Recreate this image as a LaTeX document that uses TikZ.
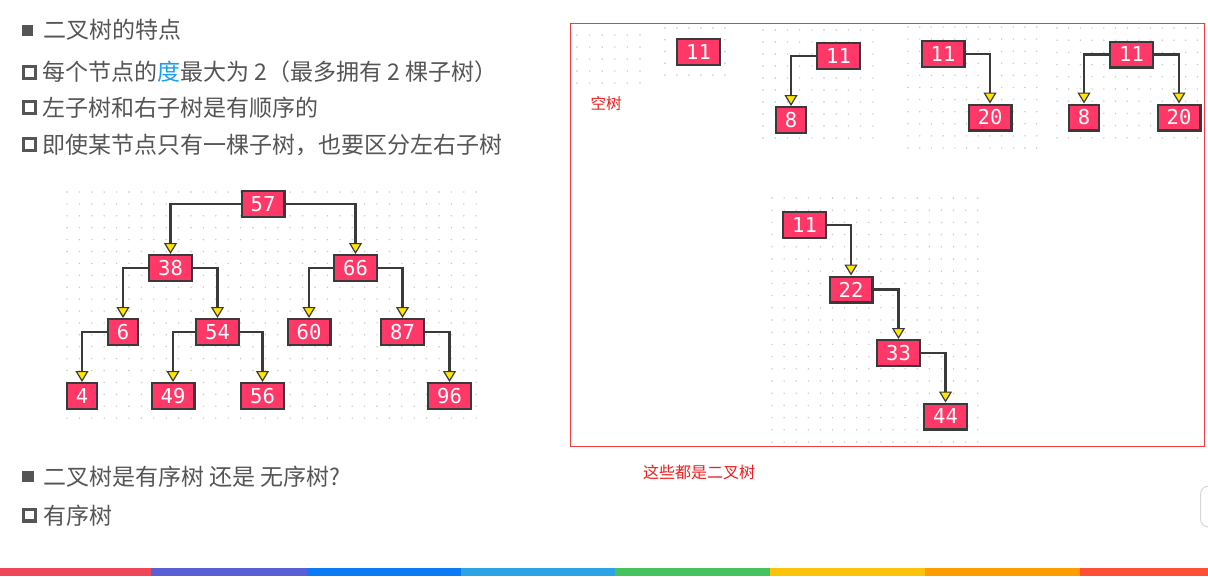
\documentclass[tikz,border=0pt]{standalone}
\usepackage{fontspec}
\newfontfamily\cjk{Noto Sans CJK SC}
\newfontfamily\mono{DejaVu Sans Mono}
\usetikzlibrary{arrows.meta}
\definecolor{nodefill}{RGB}{255,56,104}
\definecolor{nodeline}{RGB}{58,58,58}
\definecolor{arrowyellow}{RGB}{255,230,0}
\definecolor{textgrey}{RGB}{85,85,85}
\definecolor{degblue}{RGB}{24,160,240}
\definecolor{redline}{RGB}{240,60,60}
\definecolor{redtext}{RGB}{240,30,30}
\definecolor{dotgrey}{RGB}{200,200,200}
\definecolor{barA}{RGB}{240,70,90}
\definecolor{barB}{RGB}{90,95,214}
\definecolor{barC}{RGB}{10,122,245}
\definecolor{barD}{RGB}{46,163,227}
\definecolor{barE}{RGB}{69,195,95}
\definecolor{barF}{RGB}{252,195,10}
\definecolor{barG}{RGB}{255,156,0}
\definecolor{barH}{RGB}{255,80,54}
\newcommand\mydotgrid[6]{%
  \foreach \gi in {0,...,#5}{\foreach \gj in {0,...,#6}{%
    \fill[dotgrey] ({#1+#3*\gi},{#2+#4*\gj}) circle (0.8pt);}}}
\tikzset{
  tnode/.style={draw=nodeline, line width=2.4pt, fill=nodefill, text=white,
    font=\mono\fontsize{20.5}{20.5}\selectfont, minimum width=42.6pt,
    minimum height=25.6pt, inner sep=0pt},
  tnodeone/.style={tnode, minimum width=29.6pt},
  conn/.style={draw=nodeline, line width=2.4pt,
    -{Triangle[width=13pt,length=11pt,line width=1.2pt,fill=arrowyellow]}},
  txt/.style={anchor=west, inner sep=0pt, text=textgrey,
    font=\cjk\fontsize{23}{23}\selectfont},
  redlabel/.style={inner sep=0pt, text=redtext},
  hbullet/.style={draw=textgrey, line width=3.2pt},
}
\begin{document}
\begin{tikzpicture}[x=1pt,y=-1pt]
\useasboundingbox (0,0) rectangle (1208,576);
\fill[white] (0,0) rectangle (1208,576);

% dot grids
\mydotgrid{67}{192}{12.4}{11.9}{33}{19}
\mydotgrid{577}{35}{12.6}{12}{5}{4}
\mydotgrid{665}{28}{12}{11.75}{5}{4}
\mydotgrid{763}{30}{12.2}{12}{9}{9}
\mydotgrid{908}{27}{11.7}{12.1}{11}{10}
\mydotgrid{1057}{28}{11.7}{12.2}{12}{9}
\mydotgrid{772}{198}{12.1}{12.2}{17}{20}

% left text
\fill[textgrey] (22,25) rectangle (33,36);
\node[txt] (t1) at (43,30) {二叉树的特点};
\draw[hbullet] (23.6,66.6) rectangle (35.4,78.4);
\node[txt] (t2) at (42,72) {每个节点的{\color{degblue}度}最大为 2（最多拥有 2 棵子树）};
\draw[hbullet] (23.6,101.6) rectangle (35.4,113.4);
\node[txt] (t3) at (42,108) {左子树和右子树是有顺序的};
\draw[hbullet] (23.6,138.6) rectangle (35.4,150.4);
\node[txt] (t4) at (42,145) {即使某节点只有一棵子树，也要区分左右子树};
\fill[textgrey] (22,471) rectangle (34,482);
\node[txt] (t5) at (43,477) {二叉树是有序树 还是 无序树?};
\draw[hbullet] (23.6,509.1) rectangle (35.4,520.9);
\node[txt] (t6) at (43,516) {有序树};

% left tree
\node[tnode] (a57) at (263,204) {57};
\node[tnode] (a38) at (170.5,268) {38};
\node[tnode] (a66) at (355.5,268) {66};
\node[tnodeone] (a6) at (123,332) {6};
\node[tnode] (a54) at (217.5,332) {54};
\node[tnode] (a60) at (309,332) {60};
\node[tnode] (a87) at (402.5,332) {87};
\node[tnodeone] (a4) at (82,396) {4};
\node[tnode] (a49) at (173,396) {49};
\node[tnode] (a56) at (262.5,396) {56};
\node[tnode] (a96) at (449.5,396) {96};
\draw[conn] (a57.west) -| (a38.north);
\draw[conn] (a57.east) -| (a66.north);
\draw[conn] (a38.west) -| (a6.north);
\draw[conn] (a38.east) -| (a54.north);
\draw[conn] (a66.west) -| (a60.north);
\draw[conn] (a66.east) -| (a87.north);
\draw[conn] (a6.west) -| (a4.north);
\draw[conn] (a54.west) -| (a49.north);
\draw[conn] (a54.east) -| (a56.north);
\draw[conn] (a87.east) -| (a96.north);

% right panel
\draw[redline, line width=1pt] (570.5,23.5) rectangle (1204.5,446.5);
\node[redlabel, font=\cjk\fontsize{15.5}{15.5}\selectfont] (empty) at (606,104) {空树};
\node[redlabel, font=\cjk\fontsize{16}{16}\selectfont] (note) at (699,472) {这些都是二叉树};

\node[tnode] (s11) at (698.5,52) {11};

\node[tnode] (b11) at (838.5,56) {11};
\node[tnodeone] (b8) at (791,120) {8};
\draw[conn] (b11.west) -| (b8.north);

\node[tnode] (c11) at (943,54) {11};
\node[tnode] (c20) at (990,117.5) {20};
\draw[conn] (c11.east) -| (c20.north);

\node[tnode] (d11) at (1131.5,54.5) {11};
\node[tnodeone] (d8) at (1084,117.5) {8};
\node[tnode] (d20) at (1179,117.5) {20};
\draw[conn] (d11.west) -| (d8.north);
\draw[conn] (d11.east) -| (d20.north);

\node[tnode] (e11) at (804.5,225) {11};
\node[tnode] (e22) at (851,289.5) {22};
\node[tnode] (e33) at (898.5,353) {33};
\node[tnode] (e44) at (945.5,416.5) {44};
\draw[conn] (e11.east) -| (e22.north);
\draw[conn] (e22.east) -| (e33.north);
\draw[conn] (e33.east) -| (e44.north);

% side UI tab
\draw[draw={rgb,255:red,215;green,215;blue,215}, fill=white, line width=1pt, rounded corners=8pt] (1200.5,486) rectangle (1216,527);

% colour bar
\fill[barA] (0,568) rectangle (151,576);
\fill[barB] (151,568) rectangle (307,576);
\fill[barC] (307,568) rectangle (461,576);
\fill[barD] (461,568) rectangle (615,576);
\fill[barE] (615,568) rectangle (770,576);
\fill[barF] (770,568) rectangle (925,576);
\fill[barG] (925,568) rectangle (1080,576);
\fill[barH] (1080,568) rectangle (1208,576);
\end{tikzpicture}
\end{document}
